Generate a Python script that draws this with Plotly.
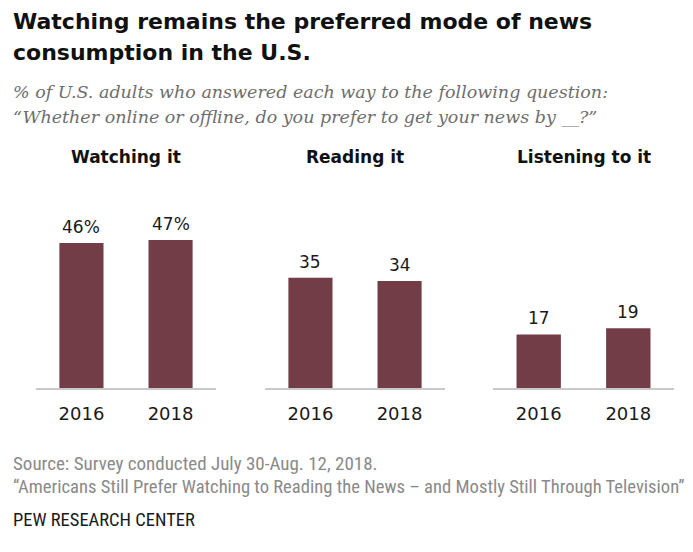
import plotly.graph_objects as go

# Survey results: preferred way of getting news, by year
modes = ["Watching it", "Reading it", "Listening to it"]
years = ["2016", "2018"]
watching = [46, 47]
reading = [35, 34]
listening = [17, 19]
value_labels = [["46%", "47%"], ["35", "34"], ["17", "19"]]

title_lines = ["Watching remains the preferred mode of news",
               "consumption in the U.S."]
subtitle_lines = ["% of U.S. adults who answered each way to the following question:",
                  "\u201cWhether online or offline, do you prefer to get your news by __?\u201d"]
source_text = "Source: Survey conducted July 30-Aug. 12, 2018."
report_text = ("\u201cAmericans Still Prefer Watching to Reading the News \u2013 "
               "and Mostly Still Through Television\u201d")
org_text = "PEW RESEARCH CENTER"

BAR = "#723d47"
W, H = 693, 552
series = [watching, reading, listening]
COND = "Roboto Condensed, Liberation Sans"

# horizontal extent of each small panel, in pixels
panel_px = [(36, 216), (265, 445), (493, 674)]
y_bottom_px, y_top_px = 388, 199

fig = go.Figure()
layout = dict(
    width=W, height=H,
    margin=dict(l=0, r=0, t=0, b=0),
    paper_bgcolor="white", plot_bgcolor="white",
    showlegend=False,
)


def px_y(p):
    return 1 - p / H


annotations = []
for i, (vals, labels, mode, (x0, x1)) in enumerate(zip(series, value_labels, modes, panel_px)):
    n = "" if i == 0 else str(i + 1)
    xa, ya = "x" + n, "y" + n
    fig.add_trace(go.Bar(
        x=years, y=vals, xaxis=xa, yaxis=ya,
        marker=dict(color=BAR, line=dict(width=0)),
        width=0.495, hoverinfo="skip",
    ))
    layout["xaxis" + n] = dict(
        domain=[x0 / W, x1 / W], anchor=ya,
        type="category", range=[-0.51, 1.51],
        showgrid=False, zeroline=False,
        showline=True, linecolor="#c9c9c9", linewidth=1.5,
        ticks="", ticklabelstandoff=9,
        tickfont=dict(family="DejaVu Sans", size=18, color="#1a1a1a"),
        fixedrange=True,
    )
    layout["yaxis" + n] = dict(
        domain=[px_y(y_bottom_px), px_y(y_top_px)], anchor=xa,
        range=[0, 60], visible=False, fixedrange=True,
    )
    # panel heading
    annotations.append(dict(
        x=(x0 + x1) / 2 / W, y=px_y(157), xref="paper", yref="paper",
        text="<b>" + mode + "</b>", showarrow=False,
        xanchor="center", yanchor="middle",
        font=dict(family="DejaVu Sans", size=17, color="#111111"),
    ))
    # value labels above bars (category index along the axis)
    for j, (v, lab) in enumerate(zip(vals, labels)):
        annotations.append(dict(
            x=j, y=v, xref=xa, yref=ya, text=lab, showarrow=False,
            xanchor="center", yanchor="bottom", yshift=4,
            font=dict(family="DejaVu Sans", size=17, color="#1a1a1a"),
        ))

# headline
for line, yc in zip(title_lines, [22, 53]):
    annotations.append(dict(
        x=11 / W, y=px_y(yc), xref="paper", yref="paper", text="<b>" + line + "</b>",
        showarrow=False, xanchor="left", yanchor="middle", align="left",
        font=dict(family="DejaVu Sans", size=22, color="#111111")))

# subtitle
for line, yc in zip(subtitle_lines, [92, 117]):
    annotations.append(dict(
        x=11 / W, y=px_y(yc), xref="paper", yref="paper", text="<i>" + line + "</i>",
        showarrow=False, xanchor="left", yanchor="middle", align="left",
        font=dict(family="DejaVu Serif", size=17.5, color="#6e6e6e")))

# footer
annotations += [
    dict(x=11 / W, y=px_y(463), xref="paper", yref="paper", text=source_text,
         showarrow=False, xanchor="left", yanchor="middle", align="left",
         font=dict(family=COND, size=19, color="#8a8a8a")),
    dict(x=11 / W, y=px_y(487), xref="paper", yref="paper", text=report_text,
         showarrow=False, xanchor="left", yanchor="middle", align="left",
         font=dict(family=COND, size=18.6, color="#8a8a8a")),
    dict(x=11 / W, y=px_y(520), xref="paper", yref="paper", text=org_text,
         showarrow=False, xanchor="left", yanchor="middle", align="left",
         font=dict(family=COND, size=18.5, color="#1a1a1a")),
]
layout["annotations"] = annotations
fig.update_layout(**layout)

fig.write_html("out.html", config={"displayModeBar": False})
